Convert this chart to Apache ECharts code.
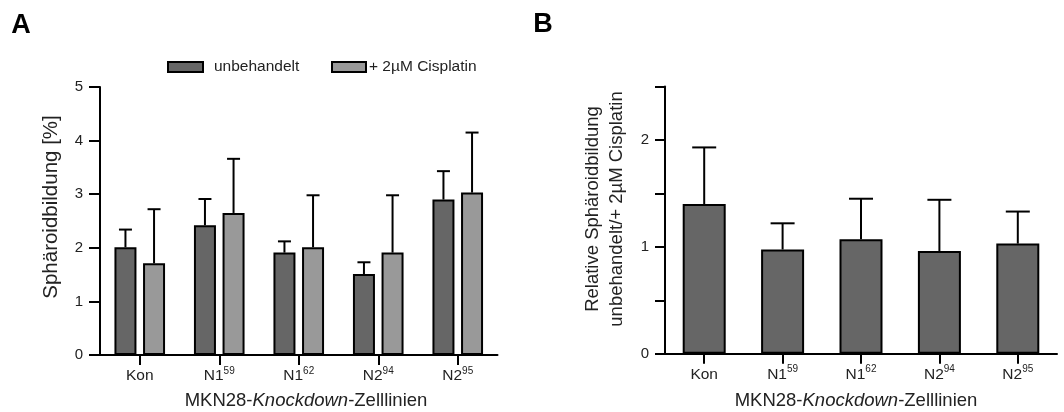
<!DOCTYPE html>
<html>
<head>
<meta charset="utf-8">
<script src="https://cdn.jsdelivr.net/npm/echarts@6/dist/echarts.min.js"></script>
<style>html,body{margin:0;padding:0;background:#fff}#c{width:1064px;height:412px}</style>
</head>
<body>
<div id="c"></div>
<script>
// ---- data ----
const categories = ['Kon', 'N1^59', 'N1^62', 'N2^94', 'N2^95'];
const seriesNames = ['unbehandelt', '+ 2µM Cisplatin'];
const untreatedMean = [2.01, 2.42, 1.91, 1.51, 2.90];
const untreatedUpper = [2.34, 2.91, 2.12, 1.73, 3.43];
const cisplatinMean = [1.71, 2.65, 2.01, 1.91, 3.03];
const cisplatinUpper = [2.72, 3.66, 2.98, 2.98, 4.15];
const relativeMean = [1.40, 0.975, 1.07, 0.96, 1.03];
const relativeUpper = [1.93, 1.22, 1.45, 1.44, 1.33];
const yTicksA = [0, 1, 2, 3, 4, 5];
const yTicksB = [0, 1, 2];

const FONT = '"Liberation Sans", Arial, Helvetica, sans-serif';
const DARK = '#666666', LIGHT = '#999999';

function catLabel(v) {
  const p = v.split('^');
  return p.length > 1 ? '{b|' + p[0] + '}{s|' + p[1] + '}' : '{b|' + p[0] + '}';
}
const catRich = {
  b: { fontSize: 15.5, fontFamily: FONT, color: '#222', lineHeight: 18, verticalAlign: 'bottom' },
  s: { fontSize: 10, fontFamily: FONT, color: '#222', lineHeight: 18, verticalAlign: 'top' }
};

function errRender(offset, capW) {
  return function (params, api) {
    const i = api.value(0);
    const base = api.coord([i, api.value(1)]);
    const top = api.coord([i, api.value(2)]);
    const x = base[0] + offset;
    return {
      type: 'group',
      children: [
        { type: 'line', shape: { x1: x, y1: base[1], x2: x, y2: top[1] }, style: { stroke: '#000', lineWidth: 2 } },
        { type: 'line', shape: { x1: x - capW / 2, y1: top[1], x2: x + capW / 2, y2: top[1] }, style: { stroke: '#000', lineWidth: 2 } }
      ]
    };
  };
}
function errData(mean, upper) { return mean.map((m, i) => [i, m, upper[i]]); }

const axisLine = { show: true, lineStyle: { color: '#000', width: 2 } };
const axisTick = { show: true, length: 10, lineStyle: { color: '#000', width: 2 } };

const chart = echarts.init(document.getElementById('c'), null, { renderer: 'canvas' });
const BW_A = 22, GAP_A = 0.3;
const offA = (BW_A + BW_A * GAP_A) / 2;

chart.setOption({
  animation: false,
  backgroundColor: '#fff',
  textStyle: { fontFamily: FONT },
  grid: [
    { left: 100, top: 87, width: 397.5, height: 268 },
    { left: 665, top: 86.5, width: 392, height: 267.2 }
  ],
  legend: [
    { data: [seriesNames[0]], left: 162, top: 54, icon: 'rect', itemWidth: 35, itemHeight: 10,
      textStyle: { fontSize: 15.5, fontFamily: FONT, color: '#222', padding: [0, 0, 0, 6] } },
    { data: [seriesNames[1]], left: 326, top: 54, icon: 'rect', itemWidth: 34, itemHeight: 10,
      textStyle: { fontSize: 15.5, fontFamily: FONT, color: '#222', padding: [0, 0, 0, -2] } }
  ],
  xAxis: [
    { type: 'category', gridIndex: 0, data: categories, axisLine: axisLine, axisTick: Object.assign({ alignWithLabel: true }, axisTick),
      axisLabel: { formatter: catLabel, rich: catRich, margin: 11, interval: 0 }, splitLine: { show: false } },
    { type: 'category', gridIndex: 1, data: categories, axisLine: axisLine, axisTick: Object.assign({ alignWithLabel: true }, axisTick),
      axisLabel: { formatter: catLabel, rich: catRich, margin: 11, interval: 0 }, splitLine: { show: false } }
  ],
  yAxis: [
    { type: 'value', gridIndex: 0, min: yTicksA[0], max: yTicksA[yTicksA.length - 1], interval: 1,
      axisLine: axisLine, axisTick: Object.assign({}, axisTick, { length: 11 }), splitLine: { show: false },
      axisLabel: { fontSize: 15, color: '#222', fontFamily: FONT, margin: 17 } },
    { type: 'value', gridIndex: 1, min: 0, max: 2.5, interval: 0.5,
      axisLine: axisLine, axisTick: Object.assign({}, axisTick, { length: 10 }), splitLine: { show: false },
      axisLabel: { fontSize: 15, color: '#222', fontFamily: FONT, margin: 16,
        formatter: v => (yTicksB.indexOf(v) >= 0 ? String(v) : '') } }
  ],
  series: [
    { name: seriesNames[0], type: 'bar', xAxisIndex: 0, yAxisIndex: 0, data: untreatedMean, barWidth: BW_A, barGap: (GAP_A * 100) + '%',
      itemStyle: { color: DARK, borderColor: '#000', borderWidth: 2 } },
    { name: seriesNames[1], type: 'bar', xAxisIndex: 0, yAxisIndex: 0, data: cisplatinMean, barWidth: BW_A, barGap: (GAP_A * 100) + '%',
      itemStyle: { color: LIGHT, borderColor: '#000', borderWidth: 2 } },
    { type: 'custom', xAxisIndex: 0, yAxisIndex: 0, renderItem: errRender(-offA, 13), data: errData(untreatedMean, untreatedUpper), z: 3 },
    { type: 'custom', xAxisIndex: 0, yAxisIndex: 0, renderItem: errRender(offA, 13), data: errData(cisplatinMean, cisplatinUpper), z: 3 },
    { name: 'relativ', type: 'bar', xAxisIndex: 1, yAxisIndex: 1, data: relativeMean, barWidth: 43,
      itemStyle: { color: DARK, borderColor: '#000', borderWidth: 2 } },
    { type: 'custom', xAxisIndex: 1, yAxisIndex: 1, renderItem: errRender(0, 24), data: errData(relativeMean, relativeUpper), z: 3 }
  ],
  graphic: [
    { type: 'text', x: 21, y: 26, style: { text: 'A', font: 'bold 27px ' + FONT, fill: '#000', textAlign: 'center', textVerticalAlign: 'middle' } },
    { type: 'text', x: 543, y: 25, style: { text: 'B', font: 'bold 27px ' + FONT, fill: '#000', textAlign: 'center', textVerticalAlign: 'middle' } },
    { type: 'text', x: 51, y: 207, rotation: Math.PI / 2,
      style: { text: 'Sphäroidbildung [%]', font: '20.5px ' + FONT, fill: '#222', textAlign: 'center', textVerticalAlign: 'middle' } },
    { type: 'text', x: 605, y: 209, rotation: Math.PI / 2,
      style: { text: 'Relative Sphäroidbildung\nunbehandelt/+ 2µM Cisplatin', font: '18.5px ' + FONT, lineHeight: 24, fill: '#222', textAlign: 'center', textVerticalAlign: 'middle' } },
    { type: 'text', x: 306, y: 401,
      style: { text: '{n|MKN28-}{i|Knockdown}{n|-Zelllinien}', textAlign: 'center', textVerticalAlign: 'middle',
        rich: { n: { fontSize: 18.5, fontFamily: FONT, fill: '#222' }, i: { fontSize: 18.5, fontFamily: FONT, fontStyle: 'italic', fill: '#222' } } } },
    { type: 'text', x: 856, y: 401,
      style: { text: '{n|MKN28-}{i|Knockdown}{n|-Zelllinien}', textAlign: 'center', textVerticalAlign: 'middle',
        rich: { n: { fontSize: 18.5, fontFamily: FONT, fill: '#222' }, i: { fontSize: 18.5, fontFamily: FONT, fontStyle: 'italic', fill: '#222' } } } }
  ]
});
</script>
</body>
</html>
